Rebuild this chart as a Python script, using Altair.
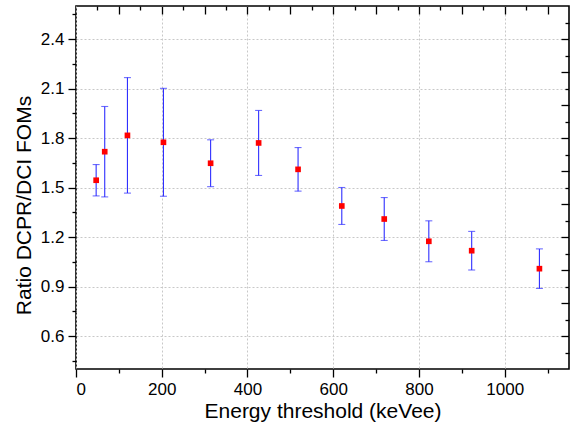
import altair as alt
import pandas as pd

# Data
energy = [47, 67, 120, 204, 314, 426, 518, 620, 719, 823, 923, 1081]
ratio = [1.544, 1.717, 1.816, 1.774, 1.647, 1.770, 1.610, 1.388, 1.309, 1.174, 1.117, 1.008]
err = [0.095, 0.274, 0.350, 0.327, 0.142, 0.197, 0.132, 0.112, 0.130, 0.124, 0.117, 0.120]

x_major_bottom = [0, 200, 400, 600, 800, 1000]
x_minor_bottom = [100, 300, 500, 700, 900, 1100]
x_major_top = [100, 200, 300, 400, 500, 600, 700, 800, 900, 1000, 1100]
x_minor_top = [50, 150, 250, 350, 450, 550, 650, 750, 850, 950, 1050]
y_major_left = [0.6, 0.9, 1.2, 1.5, 1.8, 2.1, 2.4]
y_minor_left = [0.45, 0.75, 1.05, 1.35, 1.65, 1.95, 2.25, 2.55]
y_major_right = [0.6, 0.8, 1.0, 1.2, 1.4, 1.6, 1.8, 2.0, 2.2, 2.4]
y_minor_right = [0.5, 0.7, 0.9, 1.1, 1.3, 1.5, 1.7, 1.9, 2.1, 2.3, 2.5]

df = pd.DataFrame({
    "energy": energy,
    "ratio": ratio,
    "lo": [r - e for r, e in zip(ratio, err)],
    "hi": [r + e for r, e in zip(ratio, err)],
})

FONT = "Liberation Sans"
xs = alt.Scale(domain=[0, 1150], nice=False, zero=False)
ys = alt.Scale(domain=[0.4, 2.6], nice=False, zero=False)

common = dict(domain=False, tickColor="black", tickWidth=1.3,
              labelFont=FONT, labelFontSize=17, labelColor="black",
              titleFont=FONT, titleFontSize=21, titleColor="black",
              titleFontWeight="normal")

ax_bottom_major = alt.Axis(orient="bottom", values=x_major_bottom, tickSize=8,
                           labelPadding=4, grid=True, gridDash=[2, 2],
                           gridColor="#c8c8c8", gridWidth=1,
                           title="Energy threshold (keVee)", titleY=48,
                           titleBaseline="alphabetic", format="d", **common)
ax_bottom_minor = alt.Axis(orient="bottom", values=x_minor_bottom, tickSize=4,
                           labels=False, grid=False, title=None, **common)
ax_top_major = alt.Axis(orient="top", values=x_major_top, tickSize=8, offset=-8,
                        labels=False, grid=False, title=None, **common)
ax_top_minor = alt.Axis(orient="top", values=x_minor_top, tickSize=4, offset=-4,
                        labels=False, grid=False, title=None, **common)

ay_left_major = alt.Axis(orient="left", values=y_major_left, tickSize=8,
                         labelPadding=4, format=".1f", grid=True, gridDash=[2, 2],
                         gridColor="#c8c8c8", gridWidth=1,
                         title="Ratio DCPR/DCI FOMs", titleX=-46, titleY=199,
                         titleBaseline="alphabetic", **common)
ay_left_minor = alt.Axis(orient="left", values=y_minor_left, tickSize=4,
                         labels=False, grid=False, title=None, **common)
ay_right_major = alt.Axis(orient="right", values=y_major_right, tickSize=8, offset=-8,
                          labels=False, grid=False, title=None, **common)
ay_right_minor = alt.Axis(orient="right", values=y_minor_right, tickSize=4, offset=-4,
                          labels=False, grid=False, title=None, **common)

base = alt.Chart(df)
BLUE = "#2f2fff"

bars = base.mark_rule(color=BLUE, strokeWidth=1.1).encode(
    x=alt.X("energy:Q", scale=xs, axis=ax_bottom_major),
    y=alt.Y("lo:Q", scale=ys, axis=ay_left_major),
    y2="hi:Q",
)
cap_lo = base.mark_tick(color=BLUE, orient="horizontal", size=7, thickness=1.1).encode(
    x=alt.X("energy:Q", scale=xs, axis=ax_bottom_minor),
    y=alt.Y("lo:Q", scale=ys, axis=ay_left_minor),
)
cap_hi = base.mark_tick(color=BLUE, orient="horizontal", size=7, thickness=1.1).encode(
    x=alt.X("energy:Q", scale=xs, axis=ax_top_major),
    y=alt.Y("hi:Q", scale=ys, axis=ay_right_major),
)
points = base.mark_square(color="#ff0000", size=32, opacity=1).encode(
    x=alt.X("energy:Q", scale=xs, axis=ax_top_minor),
    y=alt.Y("ratio:Q", scale=ys, axis=ay_right_minor),
)

chart = alt.layer(bars, cap_lo, cap_hi, points).resolve_axis(
    x="independent", y="independent"
).properties(
    width=493, height=363,
    autosize=alt.AutoSizeParams(type="none"),
    padding={"left": 76, "top": 6, "right": 6, "bottom": 58},
    background="white",
).configure_view(stroke="black", strokeWidth=1.6)

chart.save("out.html", embed_options={"renderer": "svg", "actions": False})
